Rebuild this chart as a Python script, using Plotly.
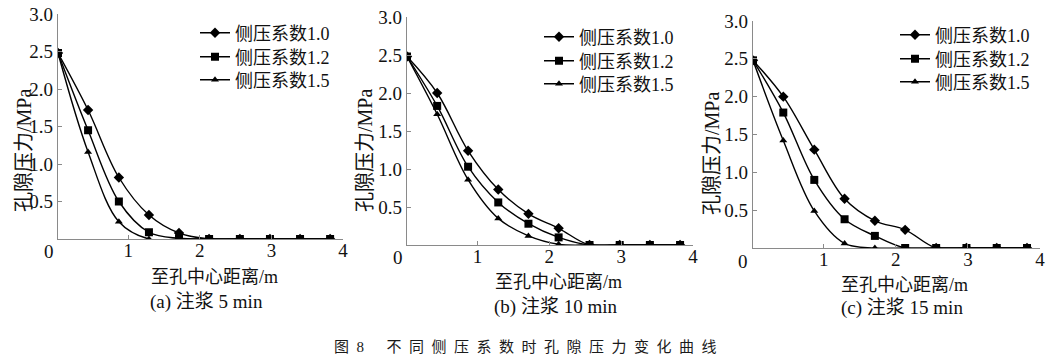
import plotly.graph_objects as go

# ---- data ----
distance = [0.02, 0.44, 0.87, 1.29, 1.71, 2.13, 2.56, 2.98, 3.40, 3.82]
series_names = ["侧压系数1.0", "侧压系数1.2", "侧压系数1.5"]

p5_k10 = [2.48, 1.72, 0.82, 0.32, 0.08, 0.0, 0.0, 0.0, 0.0, 0.0]
p5_k12 = [2.48, 1.45, 0.50, 0.09, 0.01, 0.0, 0.0, 0.0, 0.0, 0.0]
p5_k15 = [2.48, 1.16, 0.23, 0.0, 0.0, 0.0, 0.0, 0.0, 0.0, 0.0]

p10_k10 = [2.48, 2.00, 1.24, 0.73, 0.41, 0.22, 0.0, 0.0, 0.0, 0.0]
p10_k12 = [2.48, 1.83, 1.03, 0.56, 0.28, 0.10, 0.0, 0.0, 0.0, 0.0]
p10_k15 = [2.48, 1.72, 0.86, 0.35, 0.12, 0.01, 0.0, 0.0, 0.0, 0.0]

p15_k10 = [2.48, 2.00, 1.30, 0.65, 0.36, 0.24, 0.0, 0.0, 0.0, 0.0]
p15_k12 = [2.48, 1.79, 0.90, 0.38, 0.16, 0.0, 0.0, 0.0, 0.0, 0.0]
p15_k15 = [2.48, 1.42, 0.49, 0.06, 0.0, 0.0, 0.0, 0.0, 0.0, 0.0]

panels = [
    ("(a) 注浆 5 min", [p5_k10, p5_k12, p5_k15]),
    ("(b) 注浆 10 min", [p10_k10, p10_k12, p10_k15]),
    ("(c) 注浆 15 min", [p15_k10, p15_k12, p15_k15]),
]

x_ticks = [1, 2, 3, 4]
y_ticks = [0.5, 1.0, 1.5, 2.0, 2.5, 3.0]
y_ticktext = ["0.5", "1.0", "1.5", "2.0", "2.5", "3.0"]
x_title = "至孔中心距离/m"
y_title = "孔隙压力/MPa"
caption = "图\u20028\u2003\u2002不\u2002同\u2002侧\u2002压\u2002系\u2002数\u2002时\u2002孔\u2002隙\u2002压\u2002力\u2002变\u2002化\u2002曲\u2002线"

W, H = 1051, 359
FONT = "Liberation Serif, 'Noto Sans CJK SC', serif"

# pixel geometry of each panel (left, right, bottom(0), top(3.0))
geo = [
    (58, 343, 239, 14),
    (407, 693, 245, 17),
    (753, 1040, 248, 21),
]
legend_x = [195, 539, 895]
legend_rows = [[33, 57, 80], [37, 61, 84], [35, 59, 82]]
ytitle_pos = [(24, 151), (365, 151), (712, 154)]
xtitle_pos = [(214, 277), (558, 282), (904, 285)]
sub_pos = [(206, 302), (555, 307), (902, 308)]
zero_pos = [(49, 251), (398, 257), (743, 261)]

symbols = ["diamond", "square", "triangle-up"]
sizes = [8, 8, 7]

fig = go.Figure()
annotations = []
leg_index = 0


def note(text, pos, size, angle=0, color="#111"):
    return dict(text=text, x=pos[0] / W, y=1 - pos[1] / H, xref="paper", yref="paper",
                xanchor="center", yanchor="middle", showarrow=False, textangle=angle,
                font=dict(family=FONT, size=size, color=color))


for i, (sub, vals) in enumerate(panels):
    sfx = "" if i == 0 else str(i + 1)
    for j, v in enumerate(vals):
        leg_index += 1
        leg = "legend" if leg_index == 1 else f"legend{leg_index}"
        fig.add_trace(go.Scatter(
            x=distance, y=v, name=series_names[j],
            mode="lines+markers",
            line=dict(color="black", width=1.4, shape="spline", smoothing=1.0),
            marker=dict(symbol=symbols[j], size=sizes[j], color="black"),
            xaxis=f"x{sfx}", yaxis=f"y{sfx}", legend=leg,
            cliponaxis=True,
        ))
        fig.layout[leg] = dict(
            x=legend_x[i] / W, y=1 - legend_rows[i][j] / H,
            xanchor="left", yanchor="middle",
            bgcolor="rgba(0,0,0,0)", borderwidth=0,
            font=dict(family=FONT, size=18, color="#111"),
        )
    l, r, b, t = geo[i]
    axis_common = dict(showgrid=False, zeroline=False, showline=True,
                       linecolor="#8a8a8a", linewidth=1.2, automargin=False,
                       ticks="inside", ticklen=4, tickcolor="#8a8a8a",
                       tickfont=dict(family=FONT, size=19, color="#111"))
    fig.layout[f"xaxis{sfx}"] = dict(
        domain=[l / W, r / W], range=[0.02, 4.0],
        tickvals=x_ticks, anchor=f"y{sfx}", ticklabelstandoff=-6, **axis_common)
    fig.layout[f"yaxis{sfx}"] = dict(
        domain=[1 - b / H, 1 - t / H], range=[0, 3.0],
        tickvals=y_ticks, ticktext=y_ticktext, anchor=f"x{sfx}", **axis_common)
    annotations.append(note(y_title, ytitle_pos[i], 20, angle=-90))
    annotations.append(note(x_title, xtitle_pos[i], 18))
    annotations.append(note(sub, sub_pos[i], 19))
    annotations.append(note("0", zero_pos[i], 19))

annotations.append(note(caption, (525, 347), 15, color="#1a1a1a"))

fig.update_layout(
    template="none",
    width=W, height=H, margin=dict(l=0, r=0, t=0, b=0, pad=0, autoexpand=False),
    paper_bgcolor="white", plot_bgcolor="white",
    showlegend=True, annotations=annotations,
)

fig.write_html("out.html", config={"displayModeBar": False},
               post_script="document.body.style.margin='0';")
